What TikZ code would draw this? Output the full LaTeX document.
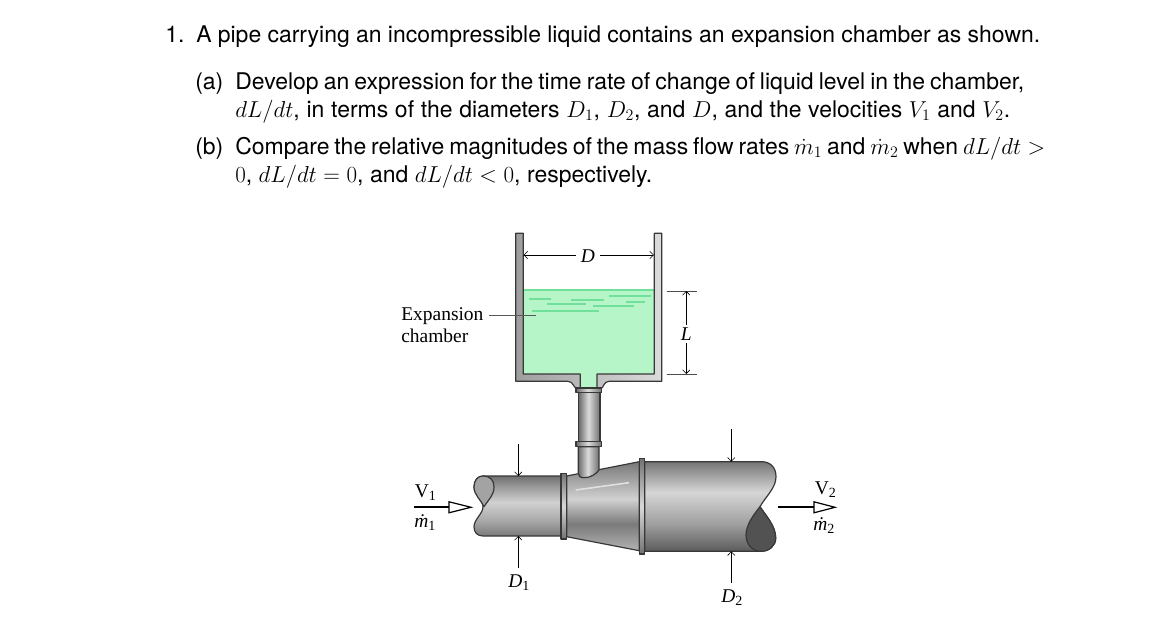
\documentclass[tikz,border=0pt]{standalone}
\usepackage[no-math]{fontspec}
\setmainfont{TeX Gyre Heros}
\newfontfamily\figfont{Liberation Serif}
\usetikzlibrary{arrows.meta}
\pgfdeclareverticalshading{pipeleft}{100bp}{rgb(0bp)=(.48,.48,.48); rgb(25bp)=(.48,.48,.48); rgb(38bp)=(.66,.66,.66); rgb(53bp)=(.82,.82,.82); rgb(65bp)=(.62,.62,.62); rgb(75bp)=(.44,.44,.44); rgb(100bp)=(.44,.44,.44)}
\pgfdeclareverticalshading{piperight}{100bp}{rgb(0bp)=(.36,.36,.36); rgb(25bp)=(.36,.36,.36); rgb(40bp)=(.62,.62,.62); rgb(58bp)=(.84,.84,.84); rgb(75bp)=(.46,.46,.46); rgb(100bp)=(.46,.46,.46)}
\pgfdeclareverticalshading{conepipe}{100bp}{rgb(0bp)=(.7,.7,.7); rgb(25bp)=(.7,.7,.7); rgb(40bp)=(.48,.48,.48); rgb(54bp)=(.82,.82,.82); rgb(75bp)=(.47,.47,.47); rgb(100bp)=(.47,.47,.47)}
\pgfdeclarehorizontalshading{stempipe}{100bp}{rgb(0bp)=(.42,.42,.42); rgb(25bp)=(.42,.42,.42); rgb(48bp)=(.86,.86,.86); rgb(75bp)=(.44,.44,.44); rgb(100bp)=(.44,.44,.44)}
\definecolor{liquid}{HTML}{B5F5C8}
\definecolor{liquidline}{HTML}{70E09A}
\definecolor{edge}{gray}{0.22}
\newcommand{\bodyfont}{\fontsize{17.23}{20}\selectfont\spaceskip=.278em plus .2em minus .12em\relax}
\newcommand{\figit}{\figfont\itshape\fontsize{14.6}{16}\selectfont}
\tikzset{
  body/.style={anchor=base west,inner sep=0pt,font=\bodyfont},
  fig/.style={inner sep=0pt,font=\figfont\fontsize{14.6}{16}\selectfont},
  figl/.style={fig,anchor=base west},
  dimline/.style={draw=black,line width=0.45pt,{Straight Barb[length=2.8pt,width=5.5pt]}-},
  ext/.style={draw=black!70,line width=0.5pt},
  ripple/.style={draw=liquidline,line width=1.4pt},
  metal/.style={draw=edge,line width=0.9pt,line join=round},
  flowline/.style={draw=black,line width=1.4pt},
  flowhead/.style={draw=black,line width=0.9pt,fill=white,line join=miter}
}
\newcommand{\subl}[1]{\raisebox{-2.6pt}{\fontsize{10.5}{11}\selectfont #1}}
\newcommand{\lineto}[2]{\hbox to #1{\hfuzz=20pt #2}}
\begin{document}
\begin{tikzpicture}[x=0.75pt,y=-0.75pt]
\useasboundingbox (0,0) rectangle (1154,628);
% text
\node[body] (q1n) at (165,42) {1.};
\node[body] (q1) at (196,42) {\lineto{633pt}{A pipe carrying an incompressible liquid contains an expansion chamber as shown.}};
\node[body] (qa) at (195,89) {(a)};
\node[body] (qa1) at (235,89) {\lineto{591.8pt}{Develop an expression for the time rate of change of liquid level in the chamber,}};
\node[body] (qa2) at (235,117) {\lineto{581.3pt}{$dL/dt$, in terms of the diameters $D_1$, $D_2$, and $D$, and the velocities $V_1$ and $V_2$.}};
\node[body] (qb) at (195,154) {(b)};
\node[body] (qb1) at (235,154) {\lineto{607.5pt}{Compare the relative magnitudes of the mass flow rates $\dot m_1$ and $\dot m_2$ when $dL/dt>$}};
\node[body] (qb2) at (235,182) {\lineto{312.8pt}{$0$, $dL/dt=0$, and $dL/dt<0$, respectively.}};
% chamber
\fill[liquid] (523.3,290) rectangle (654.3,374);
\fill[liquid] (580.3,373) rectangle (597,389);
\draw[draw=liquidline,line width=1.6pt] (523.3,290) -- (654.3,290);
\foreach \a/\b/\c in {529/551/298.7,570.7/604/299.7,609.3/650.7/296.3,546.7/586/303.7,593.3/634/305.7,626/645/301.7,531.7/598.7/310.7}
  \draw[ripple] (\a,\c) -- (\b,\c);
\path[metal,left color=black!38,right color=black!14]
  (515.7,233.3) -- (523.3,233.3) -- (523.3,374) -- (580.3,374) -- (580.3,388) -- (597,388) -- (597,374) -- (654.3,374) -- (654.3,233.3) -- (661.7,233.3) -- (661.7,381.3) -- (609,381.3) .. controls (604,381.3) and (603,388) .. (601.7,388) -- (576,388) .. controls (574,388) and (573,381.3) .. (568,381.3) -- (515.7,381.3) -- cycle;
% stem
\path[metal,shading=stempipe] (578.7,392.7) rectangle (600,441.7);
\path[metal,shading=stempipe] (576,388) rectangle (601.7,392.7);
% left pipe
\path[metal,shading=pipeleft] (483,476) -- (561,476) -- (561,536) -- (483,536) .. controls (477,536) and (474,532) .. (474,527) .. controls (474,519) and (483,514) .. (483,506.7) .. controls (483,500) and (474,495) .. (474,487) .. controls (474,480) and (478,476) .. (483,476) -- cycle;
\path[metal,fill=black!36] (483,476) .. controls (478,476) and (474,480) .. (474,487) .. controls (474,495) and (481,500) .. (484,506.7) .. controls (489,499) and (494,495) .. (494,487) .. controls (494,480) and (490,476) .. (483,476) -- cycle;
% cone
\path[metal,shading=conepipe] (566.7,476) -- (639.3,461.7) -- (639.3,550.7) -- (566.7,536.7) -- cycle;
\draw[white!88!black,line width=1.2pt] (575.7,490) -- (629,482.7);
% lower stem
\path[metal,shading=stempipe] (578.3,446.7) -- (599,446.7) -- (599,470) .. controls (596,474) and (591,477.7) .. (584,477.7) .. controls (580,477.7) and (578.3,476) .. (578.3,473) -- cycle;
\path[metal,shading=stempipe] (576,441.7) rectangle (601.7,446.7);
% right pipe
\path[metal,shading=piperight] (644.7,461.7) -- (761.7,461.7) .. controls (770,461.7) and (776,467) .. (776,476.7) .. controls (776,488) and (766,496) .. (760,506.7) .. controls (766,516) and (775.7,526) .. (775.7,538) .. controls (775.7,546) and (769,551.3) .. (761,551.3) -- (644.7,551.3) -- cycle;
\path[metal,fill=black!68] (760,506.7) .. controls (766,516) and (775.7,526) .. (775.7,538) .. controls (775.7,546) and (769,551.3) .. (761,551.3) .. controls (752,551.3) and (746,544) .. (746,535) .. controls (746,525) and (754,514) .. (760,506.7) -- cycle;
% flanges
\path[metal,top color=black!55,bottom color=black!55,middle color=black!15] (561,473.3) rectangle (566.7,539);
\path[metal,top color=black!55,bottom color=black!55,middle color=black!15] (639.3,458.7) rectangle (644.7,554);
% expansion leader
\coordinate (leadA) at (489,315);
\coordinate (leadB) at (536,315);
\draw[draw=black!65,line width=0.6pt] (leadA) -- (leadB);
\node[figl] (exp1) at (401,320) {Expansion};
\node[figl] (exp2) at (401,342) {chamber};
% D dimension
\node[fig,font=\figit] (dD) at (588,256) {D};
\coordinate (dDl) at (523.5,255);
\coordinate (dDr) at (654,255);
\path[dimline,shorten >=3.75pt] (dDl) -- (dD.west |- dDl);
\path[dimline,shorten >=3.75pt] (dDr) -- (dD.east |- dDr);
% L dimension
\coordinate (lT) at (686.3,291);
\coordinate (lB) at (686.3,374);
\node[fig,font=\figit] (dL) at (686.3,334) {L};
\draw[ext] (666.7,291) -- (696.7,291);
\draw[ext] (666.7,374) -- (696.7,374);
\path[dimline,shorten >=1.5pt] (lT) -- (lT |- dL.north);
\path[dimline,shorten >=1.5pt] (lB) -- (lB |- dL.south);
% D1
\coordinate (d1t) at (518.3,476);
\coordinate (d1ts) at (518.3,444);
\coordinate (d1b) at (518.3,536);
\coordinate (d1bs) at (518.3,568);
\path[dimline] (d1t) -- (d1ts);
\path[dimline] (d1b) -- (d1bs);
\node[figl,font=\figit] (lD1) at (508,587) {D\subl{\upshape 1}};
% D2
\coordinate (d2t) at (731.3,461.7);
\coordinate (d2ts) at (731.3,429.3);
\coordinate (d2b) at (731.3,551.3);
\coordinate (d2bs) at (731.3,583);
\path[dimline] (d2t) -- (d2ts);
\path[dimline] (d2b) -- (d2bs);
\node[figl,font=\figit] (lD2) at (721,602) {D\subl{\upshape 2}};
% flow arrows
\coordinate (f1a) at (414,507.3);
\coordinate (f1b) at (449,507.3);
\draw[flowline] (f1a) -- (f1b);
\path[flowhead] (f1b) ++(0,-5.5) -- ++(22,5.5) -- ++(-22,5.5) -- cycle;
\coordinate (f2a) at (778,507.3);
\coordinate (f2b) at (814,507.3);
\draw[flowline] (f2a) -- (f2b);
\path[flowhead] (f2b) ++(0,-5.5) -- ++(21,5.5) -- ++(-21,5.5) -- cycle;
\node[figl] (lV1) at (414.5,497) {V\subl{1}};
\node[figl] (lV2) at (814.5,494.5) {V\subl{2}};
\node[figl,font=\figit] (lm1) at (414,527) {\.{m}\subl{\upshape 1}};
\node[figl,font=\figit] (lm2) at (813,530) {\.{m}\subl{\upshape 2}};
\end{tikzpicture}
\end{document}
